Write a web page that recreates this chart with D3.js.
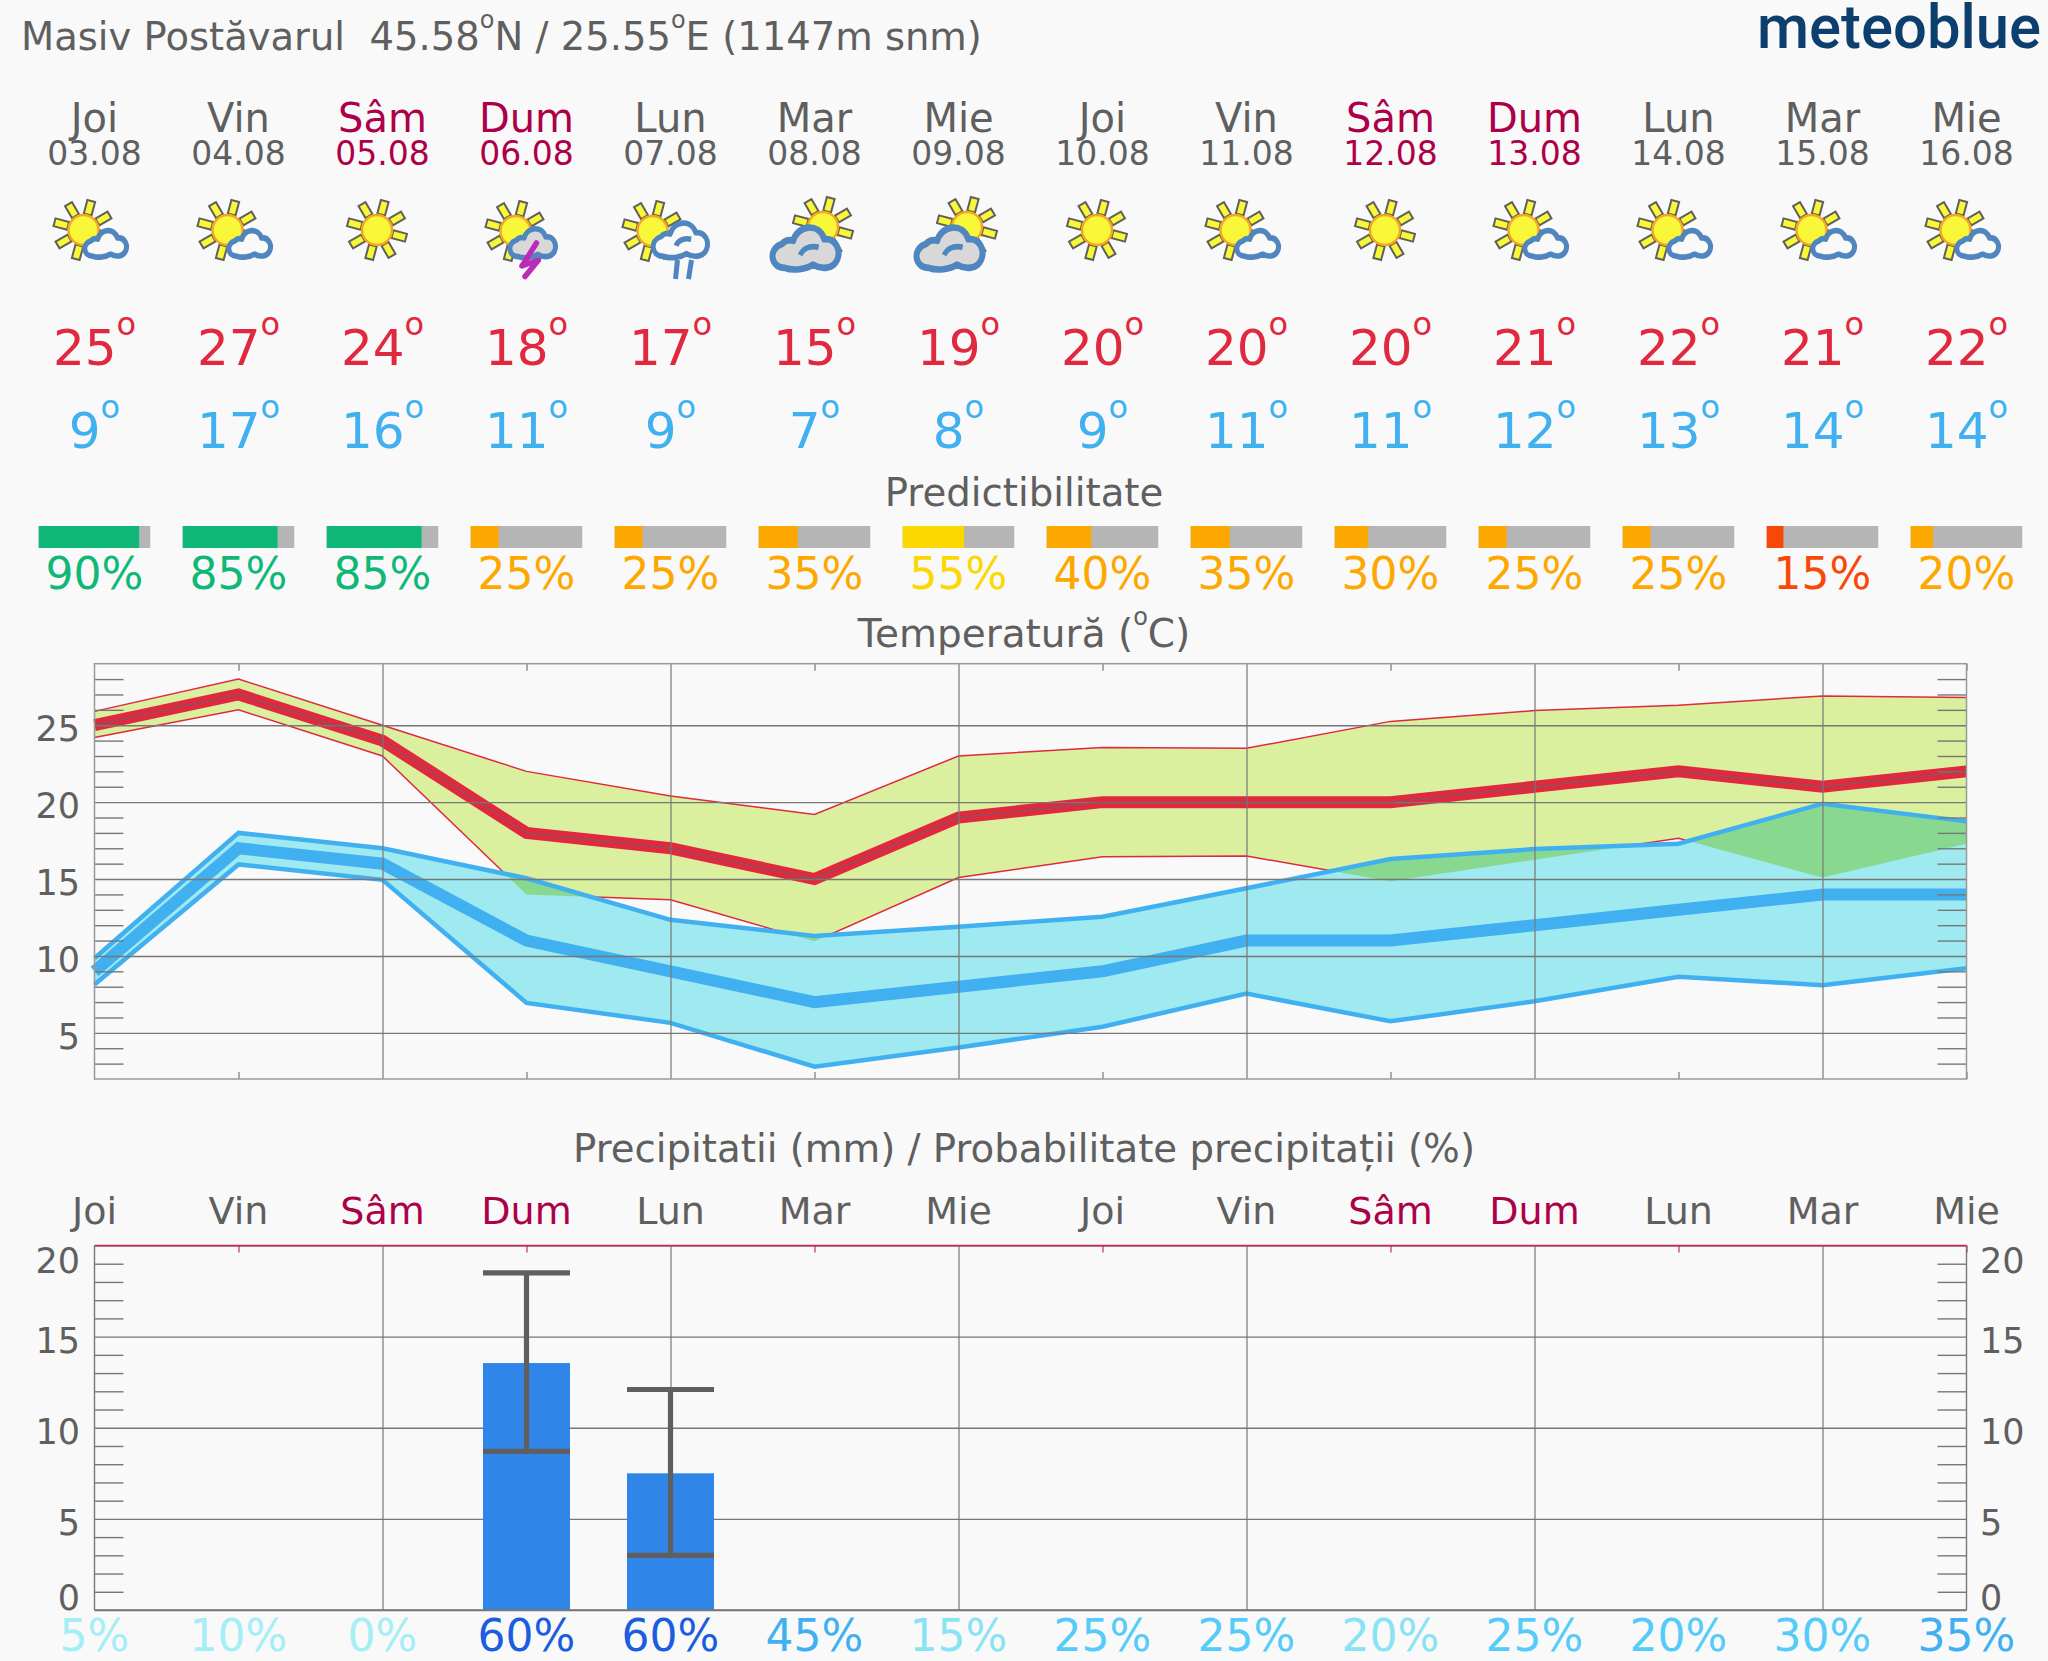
<!DOCTYPE html>
<html>
<head>
<meta charset="utf-8">
<script src="https://cdn.jsdelivr.net/npm/d3@7"></script>
<style>
  html, body { margin: 0; padding: 0; background: #f9f9f9; }
  svg { display: block; font-family: "DejaVu Sans", sans-serif; }
  text { white-space: pre; }
</style>
</head>
<body>
<svg id="chart" width="2048" height="1661"></svg>
<script>
const dayNames = ['Joi', 'Vin', 'Sâm', 'Dum', 'Lun', 'Mar', 'Mie', 'Joi', 'Vin', 'Sâm', 'Dum', 'Lun', 'Mar', 'Mie'];
const dates = ['03.08', '04.08', '05.08', '06.08', '07.08', '08.08', '09.08', '10.08', '11.08', '12.08', '13.08', '14.08', '15.08', '16.08'];
const weekend = [false, false, true, true, false, false, false, false, false, true, true, false, false, false];
const icons = ['sunCloud', 'sunCloud', 'sun', 'storm', 'rain', 'cloudy', 'cloudy', 'sun', 'sunCloud', 'sun', 'sunCloud', 'sunCloud', 'sunCloud', 'sunCloud'];

const tempMax = [25, 27, 24, 18, 17, 15, 19, 20, 20, 20, 21, 22, 21, 22];
const tempMaxHigh = [25.9, 28, 25, 22, 20.4, 19.2, 23, 23.55, 23.5, 25.25, 25.95, 26.3, 26.9, 26.8];
const tempMaxLow = [24.2, 26, 23, 14, 13.65, 10.95, 15.1, 16.45, 16.5, 14.85, 16.25, 17.65, 15.1, 17.3];
const tempMin = [9, 17, 16, 11, 9, 7, 8, 9, 11, 11, 12, 13, 14, 14];
const tempMinHigh = [9.85, 18, 17, 15.05, 12.35, 11.3, 11.9, 12.55, 14.4, 16.3, 16.95, 17.3, 19.9, 18.75];
const tempMinLow = [8.15, 15.95, 14.95, 6.95, 5.65, 2.8, 4.05, 5.4, 7.55, 5.75, 7.05, 8.65, 8.1, 9.2];

const predictability = [90, 85, 85, 25, 25, 35, 55, 40, 35, 30, 25, 25, 15, 20];

const precip = [0, 0, 0, 13.55, 7.5, 0, 0, 0, 0, 0, 0, 0, 0, 0];
const precipHigh = [0, 0, 0, 18.5, 12.1, 0, 0, 0, 0, 0, 0, 0, 0, 0];
const precipLow = [0, 0, 0, 8.7, 3, 0, 0, 0, 0, 0, 0, 0, 0, 0];
const precipProb = [5, 10, 0, 60, 60, 45, 15, 25, 25, 20, 25, 20, 30, 35];
const precipLevel = [0, 0, 0, 4, 4, 3, 1, 2, 2, 1, 2, 2, 2, 3];

const tempTicks = [5, 10, 15, 20, 25];
const precipTicks = [0, 5, 10, 15, 20];

const INK = '#5f5f5f';
const WEEKEND = '#ad0048';
const RED = '#e0283f';
const BLUE = '#41b0f0';
const GRID = '#777';
const LEVEL_COLORS = ['#a4eef5', '#88e4f2', '#55ccf8', '#41b0f0', '#1c5de0'];

const svg = d3.select('#chart');
svg.append('rect').attr('width', 2048).attr('height', 1661).attr('fill', '#f9f9f9');

const margin = { left: 94.5, right: 81.5 };
const x = d3.scalePoint().domain(d3.range(14)).range([margin.left, 2048 - margin.right]);
const xRight = x(13);

function predictColor(p) {
  if (p >= 70) return '#10b877';
  if (p >= 50) return '#fcd800';
  if (p >= 20) return '#fca800';
  return '#f84808';
}

function textRow(values, y, size, color) {
  return svg.append('g').selectAll('text')
    .data(values)
    .join('text')
    .attr('x', (d, i) => x(i))
    .attr('y', y)
    .attr('text-anchor', 'middle')
    .attr('font-size', size)
    .attr('fill', color)
    .text(d => d);
}

function degreeRow(values, y, color) {
  const row = textRow(values, y, 50, color).text(null);
  row.append('tspan').text(d => d);
  row.append('tspan').attr('font-size', 32).attr('dy', -30).text('o');
}

function superO(t) {
  t.append('tspan').attr('font-size', 24).attr('dy', -22).text('o');
}

// header
const title = svg.append('text').attr('x', 21).attr('y', 50).attr('font-size', 38.5).attr('fill', INK);
title.append('tspan').text('Masiv Postăvarul  45.58');
superO(title);
title.append('tspan').attr('dy', 22).text('N / 25.55');
superO(title);
title.append('tspan').attr('dy', 22).text('E (1147m snm)');

svg.append('text')
  .attr('x', 1757).attr('y', 47.5)
  .attr('font-family', 'Roboto').attr('font-weight', 500).attr('font-size', 62)
  .attr('textLength', 284).attr('lengthAdjust', 'spacingAndGlyphs')
  .attr('fill', '#0d3f6e')
  .text('meteoblue');

const dayColor = (d, i) => (weekend[i] ? WEEKEND : INK);
textRow(dayNames, 132, 40, INK).attr('fill', dayColor);
textRow(dates, 165, 33, INK).attr('fill', dayColor);

// weather pictograms, drawn in a local frame centred on the day's column
function drawSun(g, cx, cy) {
  const sun = g.append('g').attr('transform', `translate(${cx},${cy})`);
  d3.range(8).forEach(k => {
    sun.append('rect')
      .attr('x', 16).attr('y', -4).attr('width', 14).attr('height', 8)
      .attr('transform', `rotate(${-75 + 45 * k})`)
      .attr('fill', '#f8f838').attr('stroke', INK).attr('stroke-width', 2);
  });
  sun.append('circle').attr('r', 15)
    .attr('fill', '#f8f838').attr('stroke', '#f5a623').attr('stroke-width', 2.4);
}

const cloudPath = 'M10 27C0 27 -2 15 8 12C10 10 13 9 16 10C19 0 34 -2 38 9C46 8 50 16 47 22C44 28 36 28 30 25C25 28 16 29 10 27Z';

function drawCloud(g, cx, cy, w, fill, hook) {
  const k = w / 48;
  const c = g.append('g').attr('transform', `translate(${cx},${cy}) scale(${k},${k * 1.12})`);
  c.append('path').attr('d', cloudPath)
    .attr('fill', fill).attr('stroke', '#4f86c0').attr('stroke-width', (w > 60 ? 6 : 5) / k)
    .attr('stroke-linejoin', 'round');
  if (hook) {
    c.append('path').attr('d', 'M21 19C23 14 29 13 34 14')
      .attr('fill', 'none').attr('stroke', '#4f86c0').attr('stroke-width', 5 / k);
  }
}

const iconG = svg.append('g');
icons.forEach((name, i) => {
  const g = iconG.append('g').attr('transform', `translate(${x(i)},0)`);
  if (name === 'sun') {
    drawSun(g, -5.5, 230);
  } else if (name === 'sunCloud') {
    drawSun(g, -11, 230);
    drawCloud(g, -11, 229, 43, '#f9f9f9', false);
  } else if (name === 'storm') {
    drawSun(g, -11, 231);
    drawCloud(g, -18, 227, 47, '#d8d8d8', false);
    g.append('path').attr('d', 'M10 243L-4.5 266L12 260L-1.5 276.5')
      .attr('fill', 'none').attr('stroke', '#b82cb8').attr('stroke-width', 5.5)
      .attr('stroke-linejoin', 'round').attr('stroke-linecap', 'round');
  } else if (name === 'rain') {
    drawSun(g, -18, 231);
    drawCloud(g, -19, 221, 56, '#f9f9f9', true);
    g.append('path').attr('d', 'M7 260L5 279M21 260L18 279')
      .attr('fill', 'none').attr('stroke', '#4f86c0').attr('stroke-width', 5);
  } else {
    drawSun(g, 8.5, 227);
    drawCloud(g, -44, 225, 68, '#d8d8d8', true);
  }
});

degreeRow(tempMax, 365, RED);
degreeRow(tempMin, 448, BLUE);

// predictability strip
svg.append('text').attr('x', 1024).attr('y', 506).attr('text-anchor', 'middle')
  .attr('font-size', 38.7).attr('fill', INK).text('Predictibilitate');

const predictScale = d3.scaleLinear().domain([0, 100]).range([0, 111.6]);
const strip = svg.append('g').selectAll('g').data(predictability).join('g')
  .attr('transform', (d, i) => `translate(${x(i) - predictScale(100) / 2},526)`);
strip.append('rect').attr('width', predictScale(100)).attr('height', 22).attr('fill', '#b5b5b5');
strip.append('rect').attr('width', d => predictScale(d)).attr('height', 22).attr('fill', predictColor);
textRow(predictability.map(d => d + '%'), 589, 44, INK).attr('fill', (d, i) => predictColor(predictability[i]));

// shared axis drawing for both panels
function styleTicks(g, color, width) {
  g.select('.domain').remove();
  g.selectAll('line').attr('stroke', color).attr('stroke-width', width);
  g.selectAll('text').remove();
}

function drawGrid(g, yScale, ticks, minor, top, bottom, edgeColor) {
  g.append('g').attr('transform', `translate(${margin.left},0)`)
    .call(d3.axisLeft(yScale).tickValues(ticks).tickSize(margin.left - xRight))
    .call(styleTicks, GRID, 1.4);
  g.append('g').attr('transform', `translate(${margin.left},0)`)
    .call(d3.axisLeft(yScale).tickValues(minor).tickSize(-29))
    .call(styleTicks, GRID, 1.4);
  g.append('g').attr('transform', `translate(${xRight},0)`)
    .call(d3.axisRight(yScale).tickValues(minor).tickSize(-29))
    .call(styleTicks, GRID, 1.4);
  g.append('g').attr('transform', `translate(0,${bottom})`)
    .call(d3.axisTop(x).tickValues(d3.range(2, 14, 2)).tickSize(bottom - top))
    .call(styleTicks, GRID, 1.2);
  g.append('g').attr('transform', `translate(0,${top})`)
    .call(d3.axisBottom(x).tickValues(d3.range(1, 14, 2)).tickSize(7))
    .call(styleTicks, edgeColor, 1.2);
}

function yLabels(values, yScale, xPos, anchor, top, bottom) {
  svg.append('g').selectAll('text').data(values).join('text')
    .attr('x', xPos)
    .attr('y', d => Math.min(Math.max(yScale(d) + 16, top + 27.5), bottom))
    .attr('text-anchor', anchor)
    .attr('font-size', 35)
    .attr('fill', INK)
    .text(d => d);
}

// temperature panel
const tTop = 663.7;
const tBottom = 1079;
const yT = d3.scaleLinear().domain([2, 29]).range([tBottom, tTop]);

svg.append('text').attr('x', 1024).attr('y', 647).attr('text-anchor', 'middle')
  .attr('font-size', 39).attr('fill', INK)
  .call(t => {
    t.append('tspan').text('Temperatură (');
    superO(t);
    t.append('tspan').attr('dy', 22).text('C)');
  });
yLabels(tempTicks, yT, 80, 'end', tTop, tBottom);

const bandArea = (low, high) => d3.area()
  .x((d, i) => x(i))
  .y0((d, i) => yT(low[i]))
  .y1((d, i) => yT(high[i]))(d3.range(14));
const valueLine = values => d3.line().x((d, i) => x(i)).y(d => yT(d))(values);

const tempG = svg.append('g');
tempG.append('clipPath').attr('id', 'cold-band').append('path').attr('d', bandArea(tempMinLow, tempMinHigh));
tempG.append('path').attr('d', bandArea(tempMaxLow, tempMaxHigh)).attr('fill', '#dbf09e');
[tempMaxHigh, tempMaxLow].forEach(v => {
  tempG.append('path').attr('d', valueLine(v)).attr('fill', 'none').attr('stroke', RED).attr('stroke-width', 1.5);
});
// the cold band hides the warm band's outline; their overlap shows green
tempG.append('path').attr('d', bandArea(tempMinLow, tempMinHigh)).attr('fill', '#9fe9f0');
tempG.append('path').attr('d', bandArea(tempMaxLow, tempMaxHigh)).attr('fill', '#88d98f').attr('clip-path', 'url(#cold-band)');

[tempMinHigh, tempMinLow].forEach(v => {
  tempG.append('path').attr('d', valueLine(v)).attr('fill', 'none').attr('stroke', BLUE).attr('stroke-width', 4.5);
});
tempG.append('path').attr('d', valueLine(tempMin)).attr('fill', 'none').attr('stroke', BLUE).attr('stroke-width', 12);
tempG.append('path').attr('d', valueLine(tempMax)).attr('fill', 'none').attr('stroke', RED).attr('stroke-width', 12);

drawGrid(tempG, yT, tempTicks, d3.range(3, 29).filter(d => d % 5 !== 0), tTop, tBottom, GRID);
tempG.append('g').attr('transform', `translate(0,${tBottom})`)
  .call(d3.axisTop(x).tickValues(d3.range(1, 14, 2)).tickSize(7))
  .call(styleTicks, GRID, 1.2);
tempG.append('path').attr('d', valueLine(tempMax)).attr('fill', 'none').attr('stroke', '#666').attr('stroke-width', 1);
tempG.append('rect').attr('x', margin.left).attr('y', tTop)
  .attr('width', xRight - margin.left).attr('height', tBottom - tTop)
  .attr('fill', 'none').attr('stroke', '#999').attr('stroke-width', 1.5);

// precipitation panel
const pTop = 1245.5;
const pBottom = 1610;
const yP = d3.scaleLinear().domain([0, 20]).range([pBottom, pTop]);

svg.append('text').attr('x', 1024).attr('y', 1162).attr('text-anchor', 'middle')
  .attr('font-size', 38.7).attr('fill', INK)
  .text('Precipitatii (mm) / Probabilitate precipitații (%)');

textRow(dayNames, 1224, 38, INK).attr('fill', dayColor);
yLabels(precipTicks, yP, 80, 'end', pTop, pBottom);
yLabels(precipTicks, yP, 1980, 'start', pTop, pBottom);

const precipG = svg.append('g');
drawGrid(precipG, yP, precipTicks, d3.range(1, 20).filter(d => d % 5 !== 0), pTop, pBottom, '#d0216a');

const barWidth = 87;
const capWidth = 87;
precipG.append('g').selectAll('rect').data(precip).join('rect')
  .attr('x', (d, i) => x(i) - barWidth / 2)
  .attr('y', d => yP(d))
  .attr('width', barWidth)
  .attr('height', d => pBottom - yP(d))
  .attr('fill', '#2f86e8');

const whiskers = precipG.append('g').attr('stroke', INK).attr('stroke-width', 5.2)
  .selectAll('g').data(d3.range(14).filter(i => precip[i] > 0)).join('g');
whiskers.append('line')
  .attr('x1', i => x(i)).attr('x2', i => x(i))
  .attr('y1', i => yP(precipHigh[i])).attr('y2', i => yP(precipLow[i]));
[precipHigh, precipLow].forEach(v => {
  whiskers.append('line')
    .attr('x1', i => x(i) - capWidth / 2).attr('x2', i => x(i) + capWidth / 2)
    .attr('y1', i => yP(v[i])).attr('y2', i => yP(v[i]));
});

precipG.append('line').attr('x1', margin.left).attr('x2', xRight).attr('y1', pTop).attr('y2', pTop)
  .attr('stroke', '#d0216a').attr('stroke-width', 1.4);
precipG.append('line').attr('x1', margin.left).attr('x2', xRight).attr('y1', pBottom).attr('y2', pBottom)
  .attr('stroke', GRID).attr('stroke-width', 1.4);
[margin.left, xRight].forEach(px => {
  precipG.append('line').attr('x1', px).attr('x2', px).attr('y1', pTop).attr('y2', pBottom)
    .attr('stroke', GRID).attr('stroke-width', 1.4);
});

textRow(precipProb.map(d => d + '%'), 1651, 44, INK).attr('fill', (d, i) => LEVEL_COLORS[precipLevel[i]]);
</script>
</body>
</html>
